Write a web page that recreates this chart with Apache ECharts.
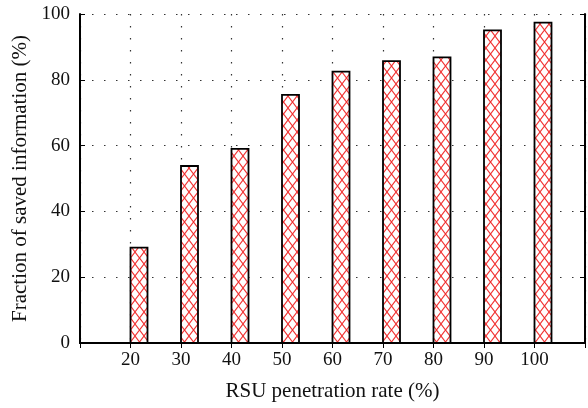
<!DOCTYPE html>
<html>
<head>
<meta charset="utf-8">
<script src="https://cdn.jsdelivr.net/npm/echarts@6/dist/echarts.min.js"></script>
<style>
  html, body { margin: 0; padding: 0; background: #fff; }
  #chart { width: 588px; height: 408px; }
</style>
</head>
<body>
<div id="chart"></div>
<script>
  // penetration rate (%) and saved information (%)
  var rates = [20, 30, 40, 50, 60, 70, 80, 90, 100];
  var saved = [29, 53.8, 59, 75.4, 82.5, 85.7, 86.8, 95, 97.4];
  var yTicks = [0, 20, 40, 60, 80, 100];

  var font = '"Liberation Serif", "DejaVu Serif", serif';

  // red cross-hatch tile
  function hatch() {
    var c = document.createElement('canvas');
    c.width = 9; c.height = 12;
    var ctx = c.getContext('2d');
    ctx.fillStyle = '#fff';
    ctx.fillRect(0, 0, 9, 12);
    ctx.strokeStyle = 'rgba(240,40,40,0.95)';
    ctx.lineWidth = 1.1;
    ctx.beginPath();
    ctx.moveTo(0, 0); ctx.lineTo(9, 12);
    ctx.moveTo(9, 0); ctx.lineTo(0, 12);
    ctx.stroke();
    return c;
  }
  var pattern = { image: hatch(), repeat: 'repeat' };

  var data = rates.map(function (r, i) { return [r, saved[i]]; });

  var chart = echarts.init(document.getElementById('chart'));

  var dotted = { show: true, lineStyle: { color: '#333', type: [1.5, 10.5], width: 1.2 } };
  var frameTick = { show: true, inside: true, length: 5, lineStyle: { color: '#000', width: 1 } };

  chart.setOption({
    animation: false,
    grid: { left: 80, right: 2, top: 14, bottom: 65, containLabel: false },
    xAxis: [
      {
        type: 'value', min: 10, max: 110, interval: 10,
        name: 'RSU penetration rate (%)', nameLocation: 'middle', nameGap: 38,
        nameTextStyle: { fontFamily: font, fontSize: 21, color: '#111' },
        axisLine: { lineStyle: { color: '#000', width: 2 } },
        axisTick: { show: false },
        axisLabel: {
          fontFamily: font, fontSize: 19, color: '#111', margin: 8,
          formatter: function (v) { return (v === 10 || v === 110) ? '' : v; }
        },
        splitLine: dotted
      },
      {
        type: 'value', position: 'top', min: 10, max: 110, interval: 10,
        axisLine: { show: true, lineStyle: { color: '#000', width: 2 } },
        axisTick: frameTick,
        axisLabel: { show: false },
        splitLine: { show: false }
      }
    ],
    yAxis: [
      {
        type: 'value', min: yTicks[0], max: yTicks[yTicks.length - 1], interval: 20,
        name: 'Fraction of saved information (%)', nameLocation: 'middle', nameGap: 47,
        nameTextStyle: { fontFamily: font, fontSize: 21, color: '#111' },
        axisLine: { show: true, lineStyle: { color: '#000', width: 2 } },
        axisTick: frameTick,
        axisLabel: { fontFamily: font, fontSize: 19, color: '#111', margin: 10 },
        splitLine: dotted
      },
      {
        type: 'value', position: 'right', min: 0, max: 100, interval: 20,
        axisLine: { show: true, lineStyle: { color: '#000', width: 2 } },
        axisTick: frameTick,
        axisLabel: { show: false },
        splitLine: { show: false }
      }
    ],
    series: [
      {
        type: 'custom',
        data: data,
        encode: { x: 0, y: 1 },
        renderItem: function (params, api) {
          var top = api.coord([api.value(0), api.value(1)]);
          var base = api.coord([api.value(0), 0]);
          return {
            type: 'rect',
            shape: { x: top[0], y: top[1], width: 17, height: base[1] - top[1] },
            style: { fill: pattern, stroke: '#000', lineWidth: 1.8 }
          };
        }
      }
    ]
  });
</script>
</body>
</html>
